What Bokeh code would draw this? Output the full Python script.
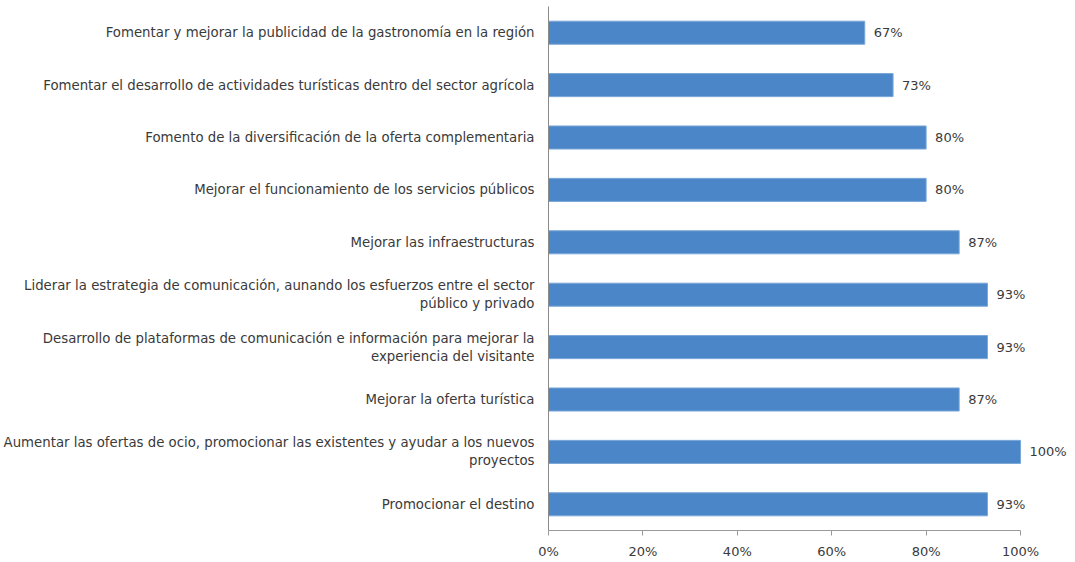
from bokeh.plotting import figure
from bokeh.models import ColumnDataSource, FactorRange, Range1d, FixedTicker, NumeralTickFormatter, LabelSet
from bokeh.core.properties import value
from bokeh.embed import file_html
from bokeh.resources import INLINE

categories = [
    "Fomentar y mejorar la publicidad de la gastronomía en la región",
    "Fomentar el desarrollo de actividades turísticas dentro del sector agrícola",
    "Fomento de la diversificación de la oferta complementaria",
    "Mejorar el funcionamiento de los servicios públicos",
    "Mejorar las infraestructuras",
    "Liderar la estrategia de comunicación, aunando los esfuerzos entre el sector\npúblico y privado",
    "Desarrollo de plataformas de comunicación e información para mejorar la\nexperiencia del visitante",
    "Mejorar la oferta turística",
    "Aumentar las ofertas de ocio, promocionar las existentes y ayudar a los nuevos\nproyectos",
    "Promocionar el destino",
]
values = [0.67, 0.73, 0.80, 0.80, 0.87, 0.93, 0.93, 0.87, 1.00, 0.93]
x_ticks = [0, 0.2, 0.4, 0.6, 0.8, 1.0]

labels = [f"{round(v * 100)}%" for v in values]
src = ColumnDataSource(dict(cat=categories, val=values, lab=labels))

FONT = "DejaVu Sans"
FS = "13px"
TEXT = "#3a3a3a"

p = figure(
    width=1073, height=561,
    y_range=FactorRange(*list(reversed(categories)), range_padding=0),
    x_range=Range1d(0, 1.108),
    output_backend="svg", toolbar_location=None,
    min_border_left=0, min_border_right=2, min_border_top=6, min_border_bottom=0,
)
p.hbar(y="cat", right="val", left=0, height=0.44, source=src,
       fill_color="#4A86C8", line_color="#7AA7D8", line_width=1)

ls = LabelSet(x="val", y="cat", text="lab", source=src, x_offset=9,
              text_font=value(FONT), text_font_size=FS, text_color=TEXT,
              text_baseline="middle", text_align="left")
p.add_layout(ls)

p.outline_line_color = None
p.xgrid.grid_line_color = None
p.ygrid.grid_line_color = None

xa = p.xaxis[0]
xa.ticker = FixedTicker(ticks=x_ticks)
xa.formatter = NumeralTickFormatter(format="0%")
xa.bounds = (0, 1)
xa.axis_line_color = "#9a9a9a"
xa.major_tick_line_color = "#9a9a9a"
xa.major_tick_in = 0
xa.major_tick_out = 5
xa.minor_tick_line_color = None
xa.major_label_text_font = FONT
xa.major_label_text_font_size = FS
xa.major_label_text_color = TEXT
xa.major_label_standoff = 8
xa.axis_label_standoff = 0

ya = p.yaxis[0]
ya.axis_line_color = "#8a8a8a"
ya.major_tick_line_color = None
ya.minor_tick_line_color = None
ya.major_label_text_font = FONT
ya.major_label_text_font_size = "13.3px"
ya.major_label_text_color = TEXT
ya.major_label_standoff = 8
ya.axis_label_standoff = 0

open("out.html", "w").write(file_html(p, INLINE))
